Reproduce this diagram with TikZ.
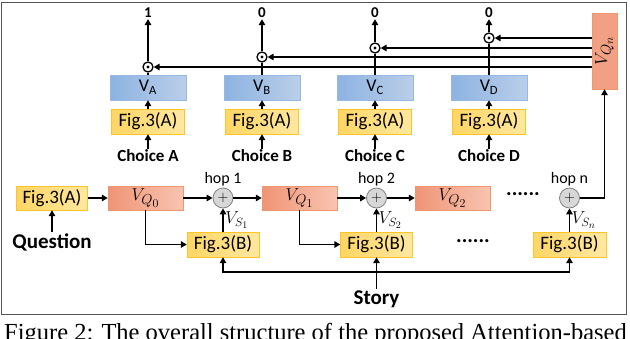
\documentclass[tikz,border=0pt]{standalone}
\usepackage{fontspec}
\setmainfont{Carlito}
\newfontfamily\capfont{Liberation Serif}
\usetikzlibrary{arrows.meta,positioning,shapes.geometric}
\DeclareMathSizes{19}{19}{15}{12}
\DeclareMathSizes{16}{16}{12.5}{10}
\definecolor{VecBlueL}{RGB}{141,179,226}
\definecolor{VecBlueR}{RGB}{186,206,232}
\definecolor{VecEdge}{RGB}{150,185,228}
\definecolor{FigYelL}{RGB}{255,214,100}
\definecolor{FigYelR}{RGB}{255,232,160}
\definecolor{FigEdge}{RGB}{255,196,40}
\definecolor{QOrgL}{RGB}{240,148,118}
\definecolor{QOrgR}{RGB}{248,196,176}
\definecolor{QEdge}{RGB}{240,150,110}
\definecolor{HopFill}{RGB}{215,215,215}
\definecolor{HopEdge}{RGB}{130,130,130}
\definecolor{FrameGray}{RGB}{85,85,85}
\tikzset{
  figbox/.style={draw=FigEdge,left color=FigYelL,right color=FigYelR,
    minimum width=73pt,minimum height=25pt,inner sep=0pt,
    font=\fontsize{19}{22}\selectfont},
  vecbox/.style={draw=VecEdge,left color=VecBlueL,right color=VecBlueR,
    minimum width=76pt,minimum height=25pt,inner sep=0pt,
    font=\fontsize{18}{21}\selectfont},
  qvec/.style={draw=QEdge,left color=QOrgL,right color=QOrgR,
    minimum width=75pt,minimum height=24pt,inner sep=0pt,
    font=\fontsize{19}{22}\selectfont},
  qtall/.style={draw=QEdge,fill=QOrgL!75!QOrgR,rotate=90,
    minimum width=76pt,minimum height=25pt,inner sep=0pt,
    font=\fontsize{19}{22}\selectfont},
  hopsum/.style={circle,draw=HopEdge,fill=HopFill,line width=0.8pt,
    minimum size=20pt,inner sep=0pt,font=\fontsize{14}{14}\selectfont},
  dotop/.style={circle,draw,line width=1.3pt,minimum size=10pt,inner sep=0pt,
    path picture={\fill (path picture bounding box.center) circle (1.6pt);}},
  choicetxt/.style={font=\bfseries\fontsize{17}{20}\selectfont,inner sep=1pt},
  bigtxt/.style={font=\bfseries\fontsize{21}{24}\selectfont,inner sep=1pt},
  outtxt/.style={font=\bfseries\fontsize{15}{18}\selectfont,inner sep=1pt},
  hoptxt/.style={font=\fontsize{16}{18}\selectfont,inner sep=1pt},
  slabel/.style={font=\fontsize{16}{18}\selectfont,inner sep=1.5pt},
  dotstxt/.style={font=\bfseries\fontsize{21}{24}\selectfont,inner sep=0pt},
  wire/.style={line width=1.6pt},
  flow/.style={-{Triangle[length=6pt,width=6.5pt]},line width=1.6pt}
}

\begin{document}
\begin{tikzpicture}[x=1pt,y=-1pt]
  \useasboundingbox (0,0) rectangle (630,338);
  % frame
  \draw[FrameGray,line width=0.9pt] (1,2) rectangle (626,314);
  % answer choices
  \node[figbox] (figA) at (148,121.5) {Fig.3(A)};
  \node[figbox] (figB) at (262,121.5) {Fig.3(A)};
  \node[figbox] (figC) at (375,121.5) {Fig.3(A)};
  \node[figbox] (figD) at (489,121.5) {Fig.3(A)};
  \node[vecbox] (vA) at (148,87.5) {V\textsubscript{A}};
  \node[vecbox] (vB) at (262,87.5) {V\textsubscript{B}};
  \node[vecbox] (vC) at (375,87.5) {V\textsubscript{C}};
  \node[vecbox] (vD) at (489,87.5) {V\textsubscript{D}};
  \node[choicetxt] (chA) at (148,156) {Choice A};
  \node[choicetxt] (chB) at (262,156) {Choice B};
  \node[choicetxt] (chC) at (375,156) {Choice C};
  \node[choicetxt] (chD) at (489,156) {Choice D};
  \node[dotop] (dotA) at (148,67) {};
  \node[dotop] (dotB) at (262,57) {};
  \node[dotop] (dotC) at (375,48) {};
  \node[dotop] (dotD) at (489,38) {};
  \node[outtxt] (outA) at (148,13) {1};
  \node[outtxt] (outB) at (262,13) {0};
  \node[outtxt] (outC) at (375,13) {0};
  \node[outtxt] (outD) at (489,13) {0};
  \foreach \c in {A,B,C,D}{
    \draw[flow] (ch\c) -- (fig\c);
    \draw[flow] (fig\c) -- (v\c);
    \draw[wire] (v\c) -- (dot\c);
    \draw[flow] (dot\c) -- (out\c);
  }
  % final question vector
  \node[qtall] (vqn) at (604.5,51) {$V_{Q_n}$};
  \foreach \c in {A,B,C,D}
    \draw[flow] (dot\c -| vqn.north) -- (dot\c);
  % question encoding and hops
  \node[figbox,minimum width=71pt,minimum height=24pt] (qfig) at (52,198) {Fig.3(A)};
  \node[bigtxt] (question) at (52,242) {Question};
  \node[qvec] (vq0) at (145.5,198) {$V_{Q_0}$};
  \node[hopsum] (hop1) at (223,198) {$+$};
  \node[qvec] (vq1) at (299.5,198) {$V_{Q_1}$};
  \node[hopsum] (hop2) at (376.5,198) {$+$};
  \node[qvec] (vq2) at (452.5,198) {$V_{Q_2}$};
  \node[dotstxt] (dotsq) at (523,194) {......};
  \node[hopsum] (hopn) at (569.5,198) {$+$};
  \node[hoptxt,above=0pt of hop1] (lbl1) {hop 1};
  \node[hoptxt,above=0pt of hop2] (lbl2) {hop 2};
  \node[hoptxt,above=0pt of hopn] (lbln) {hop n};
  % attention over the story
  \node[figbox,minimum width=72pt] (att1) at (223,244.5) {Fig.3(B)};
  \node[figbox,minimum width=72pt] (att2) at (376.5,244.5) {Fig.3(B)};
  \node[dotstxt] (dotsa) at (473,241) {......};
  \node[figbox,minimum width=73pt] (attn) at (569.5,244.5) {Fig.3(B)};
  \node[bigtxt] (story) at (376.5,299) {Story};
  \coordinate (storyhub) at (376.5,272);
  % connectors
  \draw[flow] (question) -- (qfig);
  \draw[flow] (qfig) -- (vq0);
  \draw[flow] (vq0) -- (hop1);
  \draw[flow] (hop1) -- (vq1);
  \draw[flow] (vq1) -- (hop2);
  \draw[flow] (hop2) -- (vq2);
  \draw[flow] (hopn.east) -| (vqn.west);
  \draw[flow] (vq0.south) |- (att1.west);
  \draw[flow] (vq1.south) |- (att2.west);
  \draw[flow] (att1) -- node[slabel,right] {$V_{S_1}$} (hop1);
  \draw[flow] (att2) -- node[slabel,right] {$V_{S_2}$} (hop2);
  \draw[flow] (attn) -- node[slabel,right] {$V_{S_n}$} (hopn);
  \draw[flow] (story) -- (att2);
  \draw[flow] (storyhub) -| (att1.south);
  \draw[flow] (storyhub) -| (attn.south);
  % caption
  \node[anchor=base west,inner sep=0pt,font=\capfont\fontsize{24.5}{28}\selectfont] (caption)
    at (4,340) {Figure 2: The overall structure of the proposed Attention-based};
\end{tikzpicture}
\end{document}
